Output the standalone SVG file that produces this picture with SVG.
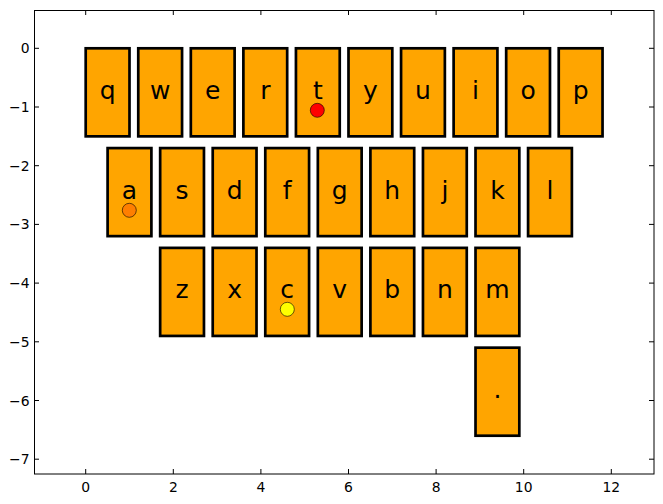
<svg xmlns="http://www.w3.org/2000/svg" width="663" height="504" viewBox="0 0 663 504">
<style>
.key rect{fill:#ffa500;stroke:#000;stroke-width:2.7}
.key text{font-family:"DejaVu Sans",sans-serif;font-size:25px;text-anchor:middle;fill:#000}
.tick{stroke:#000;stroke-width:1}
.tl{font-family:"DejaVu Sans",sans-serif;font-size:13.9px;fill:#000}
.tx{text-anchor:middle}
.ty{text-anchor:end}
.dot{stroke:#000;stroke-width:0.6}
</style>
<rect x="0" y="0" width="663" height="504" fill="#fff"/>
<g id="axes">
<rect x="34.5" y="10.5" width="619.5" height="463.5" fill="none" stroke="#000" stroke-width="1"/>
<g class="tick">
<path d="M85.7 474v-5M173.3 474v-5M260.9 474v-5M348.5 474v-5M436.1 474v-5M523.7 474v-5M611.3 474v-5"/>
<path d="M85.7 10v5M173.3 10v5M260.9 10v5M348.5 10v5M436.1 10v5M523.7 10v5M611.3 10v5"/>
<path d="M34 48.3h5M34 107h5M34 165.7h5M34 224.4h5M34 283.1h5M34 341.8h5M34 400.5h5M34 459.2h5"/>
<path d="M654 48.3h-5M654 107h-5M654 165.7h-5M654 224.4h-5M654 283.1h-5M654 341.8h-5M654 400.5h-5M654 459.2h-5"/>
</g>
<g class="tl tx">
<text x="85.7" y="492">0</text>
<text x="173.3" y="492">2</text>
<text x="260.9" y="492">4</text>
<text x="348.5" y="492">6</text>
<text x="436.1" y="492">8</text>
<text x="523.7" y="492">10</text>
<text x="611.3" y="492">12</text>
</g>
<g class="tl ty">
<text x="29.5" y="53.3">0</text>
<text x="29.5" y="112">−1</text>
<text x="29.5" y="170.7">−2</text>
<text x="29.5" y="229.4">−3</text>
<text x="29.5" y="288.1">−4</text>
<text x="29.5" y="346.8">−5</text>
<text x="29.5" y="405.5">−6</text>
<text x="29.5" y="464.2">−7</text>
</g>
</g>
<g id="key-q" class="key"><rect x="85.7" y="48.3" width="43.8" height="88.05"/><text x="107.6" y="98.8">q</text></g>
<g id="key-w" class="key"><rect x="138.26" y="48.3" width="43.8" height="88.05"/><text x="160.16" y="98.8">w</text></g>
<g id="key-e" class="key"><rect x="190.82" y="48.3" width="43.8" height="88.05"/><text x="212.72" y="98.8">e</text></g>
<g id="key-r" class="key"><rect x="243.38" y="48.3" width="43.8" height="88.05"/><text x="265.28" y="98.8">r</text></g>
<g id="key-t" class="key"><rect x="295.94" y="48.3" width="43.8" height="88.05"/><text x="317.84" y="98.8">t</text></g>
<g id="key-y" class="key"><rect x="348.5" y="48.3" width="43.8" height="88.05"/><text x="370.4" y="98.8">y</text></g>
<g id="key-u" class="key"><rect x="401.06" y="48.3" width="43.8" height="88.05"/><text x="422.96" y="98.8">u</text></g>
<g id="key-i" class="key"><rect x="453.62" y="48.3" width="43.8" height="88.05"/><text x="475.52" y="98.8">i</text></g>
<g id="key-o" class="key"><rect x="506.18" y="48.3" width="43.8" height="88.05"/><text x="528.08" y="98.8">o</text></g>
<g id="key-p" class="key"><rect x="558.74" y="48.3" width="43.8" height="88.05"/><text x="580.64" y="98.8">p</text></g>
<g id="key-a" class="key"><rect x="107.6" y="148.09" width="43.8" height="88.05"/><text x="129.5" y="198.6">a</text></g>
<g id="key-s" class="key"><rect x="160.16" y="148.09" width="43.8" height="88.05"/><text x="182.06" y="198.6">s</text></g>
<g id="key-d" class="key"><rect x="212.72" y="148.09" width="43.8" height="88.05"/><text x="234.62" y="198.6">d</text></g>
<g id="key-f" class="key"><rect x="265.28" y="148.09" width="43.8" height="88.05"/><text x="287.18" y="198.6">f</text></g>
<g id="key-g" class="key"><rect x="317.84" y="148.09" width="43.8" height="88.05"/><text x="339.74" y="198.6">g</text></g>
<g id="key-h" class="key"><rect x="370.4" y="148.09" width="43.8" height="88.05"/><text x="392.3" y="198.6">h</text></g>
<g id="key-j" class="key"><rect x="422.96" y="148.09" width="43.8" height="88.05"/><text x="444.86" y="198.6">j</text></g>
<g id="key-k" class="key"><rect x="475.52" y="148.09" width="43.8" height="88.05"/><text x="497.42" y="198.6">k</text></g>
<g id="key-l" class="key"><rect x="528.08" y="148.09" width="43.8" height="88.05"/><text x="549.98" y="198.6">l</text></g>
<g id="key-z" class="key"><rect x="160.16" y="247.88" width="43.8" height="88.05"/><text x="182.06" y="298.4">z</text></g>
<g id="key-x" class="key"><rect x="212.72" y="247.88" width="43.8" height="88.05"/><text x="234.62" y="298.4">x</text></g>
<g id="key-c" class="key"><rect x="265.28" y="247.88" width="43.8" height="88.05"/><text x="287.18" y="298.4">c</text></g>
<g id="key-v" class="key"><rect x="317.84" y="247.88" width="43.8" height="88.05"/><text x="339.74" y="298.4">v</text></g>
<g id="key-b" class="key"><rect x="370.4" y="247.88" width="43.8" height="88.05"/><text x="392.3" y="298.4">b</text></g>
<g id="key-n" class="key"><rect x="422.96" y="247.88" width="43.8" height="88.05"/><text x="444.86" y="298.4">n</text></g>
<g id="key-m" class="key"><rect x="475.52" y="247.88" width="43.8" height="88.05"/><text x="497.42" y="298.4">m</text></g>
<g id="key-period" class="key"><rect x="475.52" y="347.67" width="43.8" height="88.05"/><text x="497.42" y="398.2">.</text></g>
<g id="points">
<circle class="dot" cx="317.3" cy="110.3" r="7" fill="#ff0000"/>
<circle class="dot" cx="129.3" cy="210.3" r="7" fill="#ff7f00"/>
<circle class="dot" cx="287.3" cy="309.3" r="7" fill="#ffff00"/>
</g>
</svg>
